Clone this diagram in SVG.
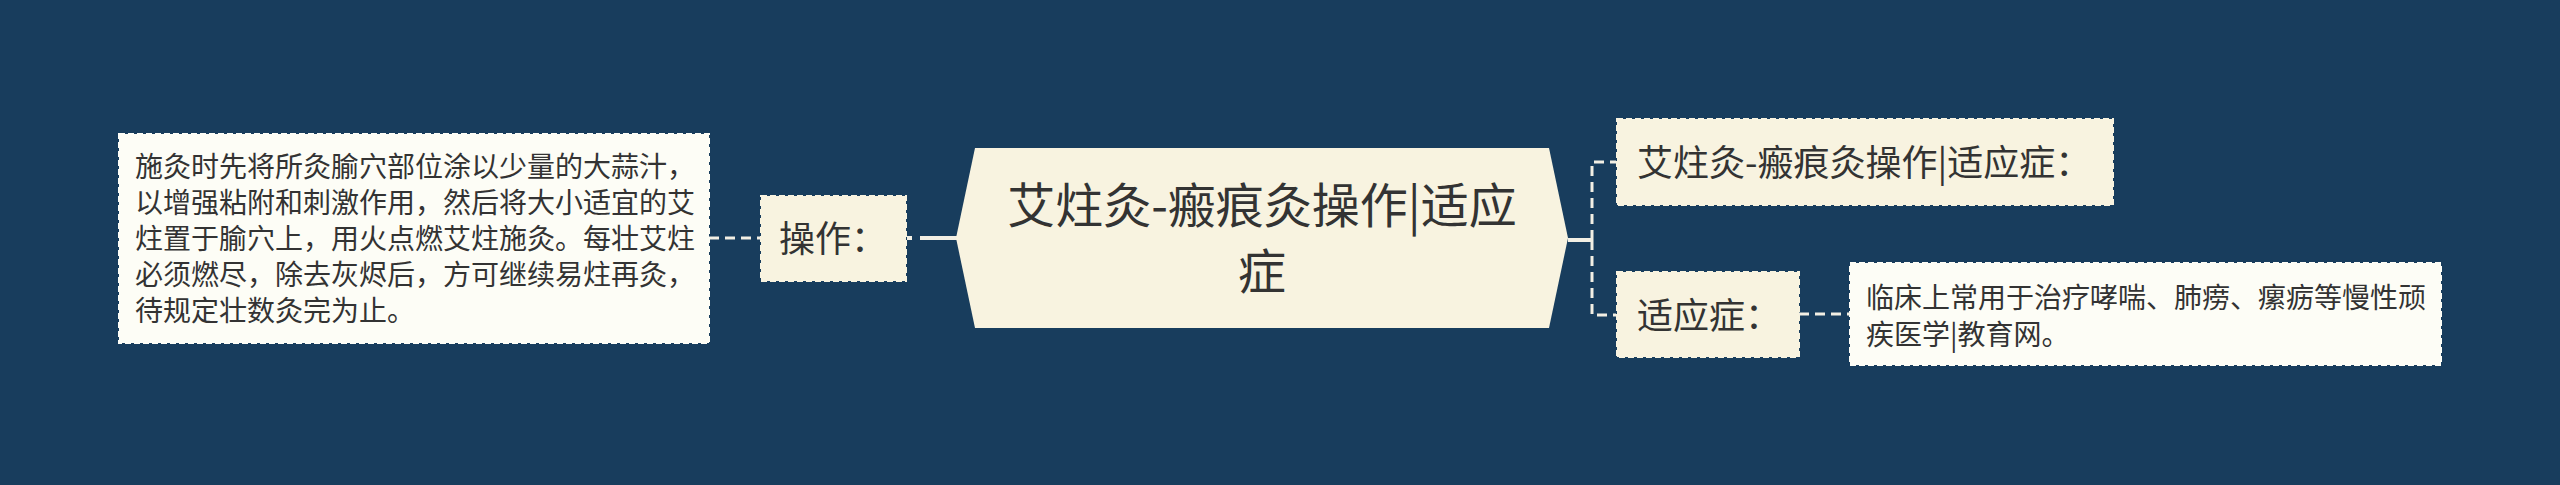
<svg xmlns="http://www.w3.org/2000/svg" width="2560" height="485" viewBox="0 0 2560 485">
<style>
.t{font-family:"Noto Sans CJK SC","Noto Sans",sans-serif;fill:#333333}
.cream{fill:#f8f3e0;stroke:#f8f3e0;stroke-width:2;stroke-dasharray:6 3}
.white{fill:#fdfdf6;stroke:#fdfdf6;stroke-width:2;stroke-dasharray:6 3}
.dash{fill:none;stroke:#f2efe4;stroke-width:3;stroke-dasharray:10 6}
.solid{fill:none;stroke:#f2efe4;stroke-width:4}
</style>
<rect x="0" y="0" width="2560" height="485" fill="#183d5d"/>
<g id="connectors">
<path class="dash" d="M709,238 H761"/>
<path class="solid" d="M907,238 H957" stroke-dasharray="5 8 200"/>
<path class="solid" d="M1568,240 H1592"/>
<path class="dash" d="M1592,240 V162 H1616"/>
<path class="dash" d="M1592,240 V315 H1616"/>
<path class="dash" d="M1799,314 H1850"/>
</g>
<g id="root">
<polygon points="956,238 975,148 1549,148 1568,238 1549,328 975,328" fill="#f8f3e0"/>
<text class="t" font-size="48" text-anchor="middle"><tspan x="1262" y="223">艾炷灸-瘢痕灸操作|适应</tspan><tspan x="1262" y="289">症</tspan></text>
</g>
<g id="op">
<rect class="cream" x="761" y="196" width="145" height="85"/>
<text class="t" font-size="36" x="779" y="252">操作：</text>
</g>
<g id="op-detail">
<rect class="white" x="119" y="134" width="590" height="209"/>
<text class="t" font-size="28"><tspan x="135" y="177">施灸时先将所灸腧穴部位涂以少量的大蒜汁，</tspan><tspan x="135" y="213">以增强粘附和刺激作用，然后将大小适宜的艾</tspan><tspan x="135" y="249">炷置于腧穴上，用火点燃艾炷施灸。每壮艾炷</tspan><tspan x="135" y="285">必须燃尽，除去灰烬后，方可继续易炷再灸，</tspan><tspan x="135" y="321">待规定壮数灸完为止。</tspan></text>
</g>
<g id="title-copy">
<rect class="cream" x="1617" y="119" width="496" height="86"/>
<text class="t" font-size="36" x="1637" y="176">艾炷灸-瘢痕灸操作|适应症：</text>
</g>
<g id="indication">
<rect class="cream" x="1617" y="272" width="182" height="85"/>
<text class="t" font-size="36" x="1637" y="329">适应症：</text>
</g>
<g id="indication-detail">
<rect class="white" x="1850" y="263" width="591" height="102"/>
<text class="t" font-size="28"><tspan x="1866" y="308">临床上常用于治疗哮喘、肺痨、瘰疬等慢性顽</tspan><tspan x="1866" y="345">疾医学|教育网。</tspan></text>
</g>
</svg>
